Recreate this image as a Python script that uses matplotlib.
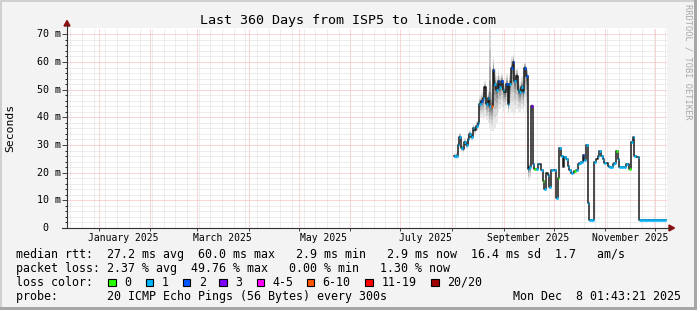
import numpy as np
import matplotlib
matplotlib.use("Agg")
import matplotlib.pyplot as plt
import matplotlib.dates as mdates
from matplotlib.patches import Rectangle, Polygon
from matplotlib.lines import Line2D
from datetime import datetime, timedelta

W, H = 697, 310
MONO = 'DejaVu Sans Mono'

# time window of the graph
t_end = datetime(2025, 12, 8, 1, 43, 21)
t_start = t_end - timedelta(days=360)
first_day = datetime(2025, 8, 2, 12, 0)

# daily median rtt (ms)
median_ms = [26, 26, 30, 33, 29, 28.5, 31, 30, 32, 34,
             33, 36, 35.5, 37, 38, 45, 46, 47, 51, 45,
             47, 44, 44, 57, 52, 50, 53, 51, 53, 50,
             49, 52, 45, 52, 58, 60, 53, 55, 50, 49,
             51, 49, 58, 55, 21.5, 22, 44, 23, 21.5, 21.5,
             23, 23, 21, 17, 14, 20, 19, 15, 21, 21,
             21, 11, 18, 29, 26, 22, 25.5, 25, 22.5, 21,
             20, 20, 20.5, 21, 23, 23.5, 24, 26.5, 24.5, 30,
             9, 2.9, 2.9, 2.9, 24, 25, 26, 28, 26, 25,
             23.5, 23.5, 22.5, 22, 22, 23, 23.5, 28, 25, 22,
             22, 22, 22, 23, 23, 21.5, 31, 33, 26, 25.5,
             25.5, 2.9, 2.9, 2.9, 2.9, 2.9, 2.9, 2.9, 2.9, 2.9,
             2.9, 2.9, 2.9, 2.9, 2.9, 2.9, 2.9]

# lost pings per day (bucket key, -1 = no loss band)
loss_pings = [1, 1, 1, 1, 1, -1, 1, 1, 1, 1,
              1, 1, -1, 1, 1, 1, 2, 1, -1, 1,
              1, 1, 10, 2, 1, 1, 2, 1, 2, 1,
              -1, 2, 1, 1, 2, 2, 1, -1, 1, 1,
              1, 1, 2, 2, 1, 1, 3, 1, 0, 1,
              1, -1, 1, 0, 1, -1, 1, 1, 1, -1,
              1, 1, 0, 1, 1, -1, 1, 1, 1, 1,
              1, -1, 0, 1, 1, 1, 1, 2, 1, 1,
              1, 1, 1, 1, 1, -1, 1, 1, 1, 1,
              1, -1, 1, 1, 1, 1, 1, 0, 1, 1,
              1, 1, 1, 1, -1, 0, 1, 1, 1, -1,
              1, 1, 1, 1, 1, 1, 1, 1, 1, 1,
              1, 1, 1, 1, 1, 1, 1]

# smoke (min / max ping) for the period where it is visible
smoke_lo = [25, 25, 28.5, 31, 27.5, 27, 29.5, 28.5, 30.5, 32,
            31.5, 34, 34, 35, 36, 40, 40, 39, 40, 39,
            38, 36, 35, 35, 36, 38, 42, 43, 44, 42,
            43, 44, 41, 43, 42, 41, 42, 43, 42, 42,
            43, 42, 44, 42, 17, 18, 42]
smoke_hi = [27, 27.5, 31.5, 34.5, 30.5, 30, 32.5, 31.5, 33.5, 35.5,
            34.5, 37.5, 37, 38.5, 39.5, 48, 49, 50, 53, 48,
            50, 80, 52, 62, 58, 55, 57, 55, 56, 54,
            53, 56, 50, 56, 62, 63, 57, 58, 54, 53,
            55, 53, 60, 58, 24, 23.5, 45]

loss_keys = [0, 1, 2, 3, 5, 10, 19, 20]
loss_labels = ['0', '1', '2', '3', '4-5', '6-10', '11-19', '20/20']
loss_colors = ['#26ff00', '#00b8ff', '#0059ff', '#7e00ff',
               '#ff00ff', '#ff5500', '#ff0000', '#a00000']

y_max = 72.3


def fx(x):
    return x / W


def fy(y):
    return 1 - y / H


fig = plt.figure(figsize=(W / 100, H / 100), dpi=100, facecolor='#f3f3f3')
ax = fig.add_axes([fx(67), 1 - 228 / H, 600 / W, 200 / H])
ax.set_facecolor('white')
for s in ax.spines.values():
    s.set_visible(False)

ax.set_xlim(mdates.date2num(t_start), mdates.date2num(t_end))
ax.set_ylim(0, y_max)

# grid
month_starts = [datetime(2025, m, 1) for m in range(1, 13)]
weeks = []
d = datetime(2024, 12, 15)
while d < t_end:
    weeks.append(d)
    d += timedelta(days=7)
ax.set_xticks(mdates.date2num(month_starts))
ax.set_xticks(mdates.date2num(weeks), minor=True)
ax.set_yticks(range(0, 71, 10))
ax.set_yticks([v for v in range(2, 72, 2) if v % 10], minor=True)
ax.grid(which='minor', color='#dcdcdc', ls=(0, (1, 1)), lw=0.72)
ax.grid(which='major', color='#f4b0b0', ls=(0, (1, 1)), lw=0.72)
ax.set_axisbelow(True)
ax.tick_params(labelleft=False, labelbottom=False, color='#404040', width=0.7)
ax.tick_params(axis='y', which='major', length=3.5)
ax.tick_params(axis='y', which='minor', length=1.5)
ax.tick_params(axis='x', which='major', length=2)
ax.tick_params(axis='x', which='minor', length=0)

# data
n = len(median_ms)
xe = mdates.date2num([first_day + timedelta(days=i) for i in range(n + 1)])
med = np.array(median_ms + [median_ms[-1]], dtype=float)

m = len(smoke_lo)
xs = xe[:m + 1]
mm = np.array(median_ms[:m] + [median_ms[m - 1]], dtype=float)
lo = np.array(smoke_lo + [smoke_lo[-1]], dtype=float)
hi = np.array(smoke_hi + [smoke_hi[-1]], dtype=float)
shades = ['#e8e8e8', '#d6d6d6', '#c0c0c0', '#a8a8a8',
          '#8f8f8f', '#767676', '#5e5e5e', '#484848']
for k, c in enumerate(shades):
    f = (1 - k / len(shades)) ** 2
    ax.fill_between(xs, mm - (mm - lo) * f, mm + (hi - mm) * f,
                    step='post', color=c, lw=0, zorder=2)

ax.step(xe, med, where='post', color='#1a1a1a', lw=1.1, zorder=3)

for i in range(n):
    if loss_pings[i] in loss_keys:
        c = loss_colors[loss_keys.index(loss_pings[i])]
        ax.plot([xe[i], xe[i + 1]], [median_ms[i], median_ms[i]], color=c,
                lw=2.0, solid_capstyle='butt', zorder=4)

# axis lines and arrows
fig.add_artist(Line2D([fx(67), fx(67)], [fy(228), fy(25)], color='#303030', lw=0.8))
fig.add_artist(Line2D([fx(62), fx(670)], [fy(228), fy(228)], color='#303030', lw=0.8))
fig.add_artist(Polygon([(fx(64), fy(26)), (fx(70), fy(26)), (fx(67), fy(20.5))],
                       closed=True, transform=fig.transFigure, color='#8b1010'))
fig.add_artist(Polygon([(fx(669), fy(225)), (fx(669), fy(231)), (fx(674.5), fy(228))],
                       closed=True, transform=fig.transFigure, color='#8b1010'))

# y tick labels
for v in range(0, 71, 10):
    ypx = 228 - v * 200 / y_max
    if v == 0:
        fig.text(fx(48), fy(ypx), '0', ha='right', va='center', family=MONO, size=7.2)
    else:
        fig.text(fx(61), fy(ypx), f'{v} m', ha='right', va='center', family=MONO, size=7.2)

# x labels at mid-month
for mth, name in [(1, 'January'), (3, 'March'), (5, 'May'), (7, 'July'),
                  (9, 'September'), (11, 'November')]:
    ax.text(mdates.date2num(datetime(2025, mth, 16)), -13 / 200, f'{name} 2025',
            transform=ax.get_xaxis_transform(), ha='center', va='baseline',
            family=MONO, size=7.05, clip_on=False)

fig.text(fx(348), fy(24), 'Last 360 Days from ISP5 to linode.com', ha='center',
         va='baseline', family=MONO, size=9.6)
fig.text(fx(10.5), fy(128), 'Seconds', rotation=90, ha='center', va='center',
         family=MONO, size=8.2)
fig.text(fx(688), fy(4), 'RRDTOOL / TOBI OETIKER', rotation=270, ha='center',
         va='top', family=MONO, size=6.2, color='#a8a8a8')

# legend
rows = ['median rtt:  27.2 ms avg  60.0 ms max   2.9 ms min   2.9 ms now  16.4 ms sd  1.7   am/s',
        'packet loss: 2.37 % avg  49.76 % max   0.00 % min   1.30 % now',
        'loss color:',
        'probe:       20 ICMP Echo Pings (56 Bytes) every 300s']
for k, r in enumerate(rows):
    fig.text(fx(16), fy(257.7 + 14 * k), r, ha='left', va='baseline', family=MONO, size=8.37)

box_x = [108, 145.7, 182.7, 219.3, 256.7, 306.7, 365.3, 431]
for bx, lab, c in zip(box_x, loss_labels, loss_colors):
    fig.add_artist(Rectangle((fx(bx), fy(286)), 7.5 / W, 7.5 / H, transform=fig.transFigure,
                             facecolor=c, edgecolor='black', lw=0.8))
    fig.text(fx(bx + 16), fy(285.7), lab, ha='left', va='baseline', family=MONO, size=8.37)

fig.text(fx(681), fy(299.7), 'Mon Dec  8 01:43:21 2025', ha='right', va='baseline',
         family=MONO, size=8.37)

# 3d frame
fig.add_artist(Rectangle((0, fy(2)), 1, 2 / H, transform=fig.transFigure, color='#d0d0d0', lw=0))
fig.add_artist(Rectangle((0, 0), 2 / W, 1, transform=fig.transFigure, color='#d0d0d0', lw=0))
fig.add_artist(Rectangle((0, 0), 1, 3 / H, transform=fig.transFigure, color='#a6a6a6', lw=0))
fig.add_artist(Rectangle((fx(694), 0), 3 / W, 1, transform=fig.transFigure, color='#a6a6a6', lw=0))

fig.savefig('out.png', dpi=100, facecolor=fig.get_facecolor())
